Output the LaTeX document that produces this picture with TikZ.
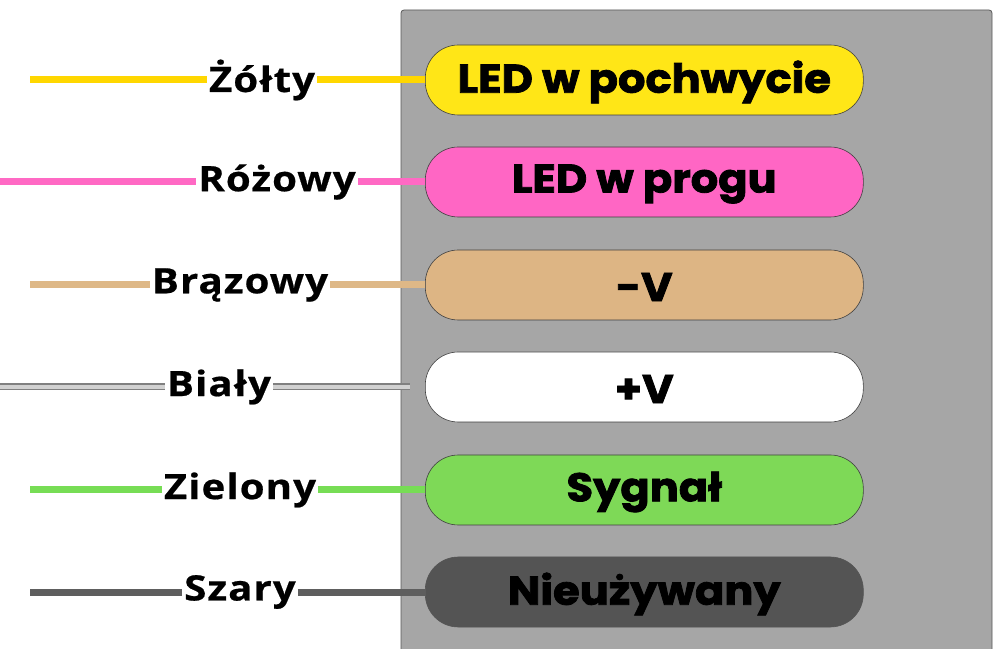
\documentclass[tikz,border=0pt]{standalone}
\usepackage{fontspec}
\newfontfamily\lblfont{Open Sans}[UprightFont=* Bold,FakeBold=0.6,FakeStretch=1.15,LetterSpace=3]
\newfontfamily\pillfont{Poppins}[UprightFont=* Bold,FakeBold=2,FakeStretch=1.08]
\definecolor{panel}{HTML}{A6A6A6}
\definecolor{wyellow}{HTML}{FFD700}
\definecolor{wpink}{HTML}{FF69C4}
\definecolor{wtan}{HTML}{DEB887}
\definecolor{wgreen}{HTML}{77DD55}
\definecolor{wgray}{HTML}{5E5E5E}
\definecolor{pyellow}{HTML}{FFE617}
\definecolor{ppink}{HTML}{FF66C4}
\definecolor{ptan}{HTML}{DDB584}
\definecolor{pgreen}{HTML}{7ED957}
\definecolor{pdark}{HTML}{545454}
\begin{document}
\begin{tikzpicture}[x=1pt,y=1pt,
  pill/.style={draw=black!75,line width=0.6pt,rounded corners=33pt,minimum width=438pt,minimum height=70pt,inner sep=0pt,font=\pillfont\fontsize{40}{40}\selectfont,anchor=west},
  ptext/.style={inner sep=0pt,font=\pillfont\fontsize{40}{40}\selectfont},
  lbl/.style={fill=white,inner sep=2pt,font=\lblfont\fontsize{35}{35}\selectfont},
  wire/.style={line width=7pt}]
\useasboundingbox (0,0) rectangle (993,648);
\fill[white] (0,0) rectangle (993,648);
\draw[fill=panel,draw=black!65,line width=0.8pt,rounded corners=3pt] (401,-10) rectangle (992,638);
% pills
\node[pill,fill=pyellow] (p1) at (425,568) {};
\node[pill,fill=ppink] (p2) at (425,466) {};
\node[pill,fill=ptan] (p3) at (425,363) {};
\node[pill,fill=white] (p4) at (425,261) {};
\node[pill,fill=pgreen] (p5) at (425,158) {};
\node[pill,fill=pdark,draw=pdark] (p6) at (425,56) {};
\node[ptext] (t1) at ([yshift=-2pt]p1.center) {LED w pochwycie};
\node[ptext] (t2) at ([yshift=-2pt]p2.center) {LED w progu};
\node[ptext] (t3) at ([yshift=-2pt]p3.center) {-V};
\node[ptext] (t4) at ([yshift=-2pt]p4.center) {+V};
\node[ptext] (t5) at ([yshift=-2pt]p5.center) {Sygnał};
\node[ptext] (t6) at ([yshift=-2pt]p6.center) {Nieużywany};
% wire starts
\coordinate (s1) at (30,568);
\coordinate (s2) at (0,466);
\coordinate (s3) at (30,363);
\coordinate (s4) at (0,261);
\coordinate (e4) at (410,261);
\coordinate (s5) at (30,158);
\coordinate (s6) at (30,56);
% labels
\node[lbl] (l1) at (262,568) {Żółty};
\node[lbl] (l2) at (277,466) {Różowy};
\node[lbl] (l3) at (240,363) {Brązowy};
\node[lbl] (l4) at (219,261) {Biały};
\node[lbl] (l5) at (240,158) {Zielony};
\node[lbl] (l6) at (240,56) {Szary};
% wires
\draw[wire,wyellow] (s1) -- (l1) -- (p1);
\draw[wire,wpink] (s2) -- (l2) -- (p2);
\draw[wire,wtan] (s3) -- (l3) -- (p3);
\draw[line width=7pt,black!50] (s4) -- (l4) -- (e4);
\draw[line width=4.5pt,black!18] (s4) -- (l4) -- (e4);
\draw[wire,wgreen] (s5) -- (l5) -- (p5);
\draw[wire,wgray] (s6) -- (l6) -- (p6);
\end{tikzpicture}
\end{document}
